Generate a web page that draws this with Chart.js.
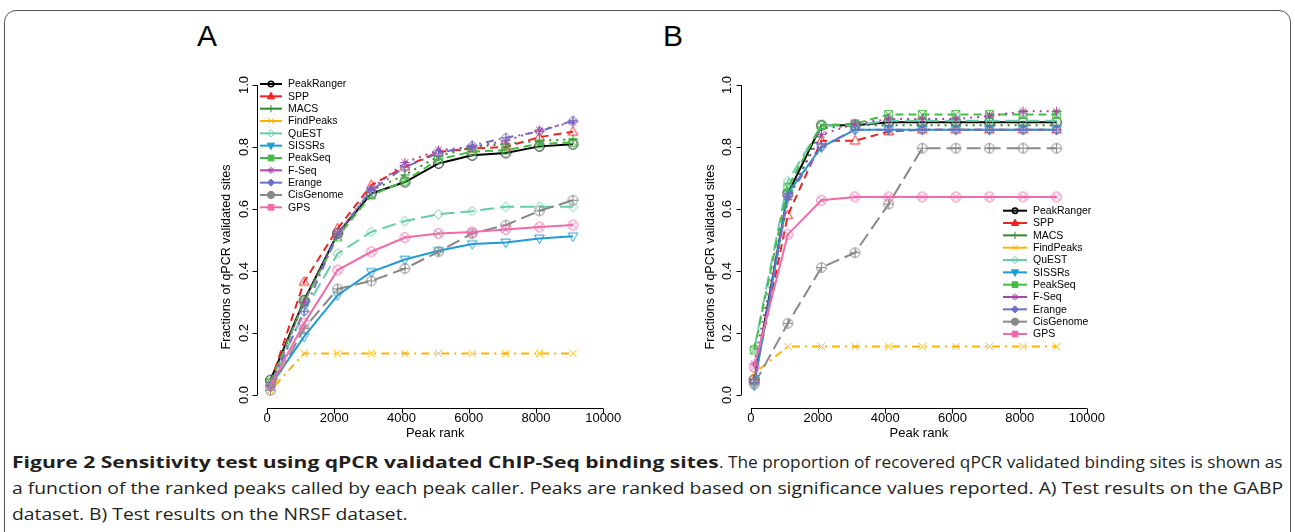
<!DOCTYPE html>
<html>
<head>
<meta charset="utf-8">
<script src="https://cdn.jsdelivr.net/npm/chart.js@4.4.0/dist/chart.umd.min.js"></script>
<style>
  body { margin: 0; background: #fff; width: 1295px; height: 532px; overflow: hidden; position: relative; font-family: "Liberation Sans", Arial, sans-serif; }
  #frame { position: absolute; left: 4px; top: 10px; width: 1285px; height: 600px; border: 1.5px solid #555; border-radius: 12px; }
  .panel { position: absolute; font-size: 30px; color: #000; }
  canvas { position: absolute; }
  .cap { position: absolute; font-family: "Open Sans", sans-serif; font-size: 16px; color: #231f20; white-space: nowrap; transform-origin: 0 50%; line-height: 20px; }
  .bold { font-weight: 700; }
</style>
</head>
<body>
<div id="frame"></div>
<div class="panel" style="left:197px;top:19px;">A</div>
<div class="panel" style="left:663px;top:19px;">B</div>
<canvas id="chartA" width="490" height="400" style="left:150px;top:50px;"></canvas>
<canvas id="chartB" width="490" height="400" style="left:635px;top:50px;"></canvas>
<div class="cap bold" data-w="707" style="left:12px;top:452px;">Figure 2 Sensitivity test using qPCR validated ChIP-Seq binding sites</div>
<div class="cap" data-w="564" style="left:719px;top:452px;">. The proportion of recovered qPCR validated binding sites is shown as</div>
<div class="cap" data-w="1271" style="left:12px;top:478px;">a function of the ranked peaks called by each peak caller. Peaks are ranked based on significance values reported. A) Test results on the GABP</div>
<div class="cap" data-k="1" style="left:12px;top:504px;">dataset. B) Test results on the NRSF dataset.</div>
<script>
// peak rank positions and axis ticks
const peakRanks = [100, 1100, 2100, 3100, 4100, 5100, 6100, 7100, 8100, 9100];
const xTicks = [0, 2000, 4000, 6000, 8000, 10000];
const yTicks = [0, 0.2, 0.4, 0.6, 0.8, 1.0];
const callers = ['PeakRanger', 'SPP', 'MACS', 'FindPeaks', 'QuEST', 'SISSRs', 'PeakSeq', 'F-Seq', 'Erange', 'CisGenome', 'GPS'];

// A) GABP dataset
const gabpPeakRanger = [0.048, 0.305, 0.521, 0.650, 0.687, 0.747, 0.773, 0.781, 0.802, 0.809];
const gabpSPP        = [0.040, 0.365, 0.537, 0.677, 0.736, 0.784, 0.795, 0.800, 0.832, 0.849];
const gabpMACS       = [0.040, 0.300, 0.520, 0.660, 0.710, 0.770, 0.800, 0.810, 0.820, 0.825];
const gabpFindPeaks  = [0.015, 0.134, 0.134, 0.134, 0.134, 0.134, 0.134, 0.134, 0.134, 0.134];
const gabpQuEST      = [0.030, 0.270, 0.456, 0.526, 0.561, 0.583, 0.593, 0.607, 0.607, 0.607];
const gabpSISSRs     = [0.030, 0.188, 0.322, 0.397, 0.437, 0.465, 0.487, 0.492, 0.505, 0.512];
const gabpPeakSeq    = [0.040, 0.300, 0.510, 0.645, 0.690, 0.760, 0.785, 0.790, 0.810, 0.815];
const gabpFSeq       = [0.030, 0.300, 0.520, 0.665, 0.750, 0.790, 0.800, 0.820, 0.855, 0.880];
const gabpErange     = [0.030, 0.270, 0.520, 0.660, 0.735, 0.780, 0.805, 0.830, 0.850, 0.885];
const gabpCisGenome  = [0.015, 0.215, 0.342, 0.368, 0.408, 0.462, 0.521, 0.548, 0.594, 0.628];
const gabpGPS        = [0.030, 0.231, 0.403, 0.462, 0.508, 0.521, 0.526, 0.534, 0.542, 0.548];

// B) NRSF dataset
const nrsfPeakRanger = [0.050, 0.650, 0.870, 0.870, 0.880, 0.880, 0.880, 0.880, 0.880, 0.880];
const nrsfSPP        = [0.050, 0.580, 0.820, 0.820, 0.850, 0.856, 0.856, 0.856, 0.856, 0.856];
const nrsfMACS       = [0.050, 0.630, 0.860, 0.870, 0.870, 0.870, 0.870, 0.870, 0.870, 0.870];
const nrsfFindPeaks  = [0.070, 0.156, 0.156, 0.156, 0.156, 0.156, 0.156, 0.156, 0.156, 0.156];
const nrsfQuEST      = [0.150, 0.690, 0.870, 0.870, 0.885, 0.885, 0.885, 0.885, 0.885, 0.885];
const nrsfSISSRs     = [0.030, 0.650, 0.800, 0.856, 0.856, 0.856, 0.856, 0.856, 0.856, 0.856];
const nrsfPeakSeq    = [0.145, 0.670, 0.870, 0.875, 0.905, 0.905, 0.905, 0.905, 0.905, 0.905];
const nrsfFSeq       = [0.100, 0.640, 0.840, 0.875, 0.890, 0.890, 0.890, 0.900, 0.915, 0.915];
const nrsfErange     = [0.040, 0.640, 0.800, 0.856, 0.856, 0.856, 0.856, 0.856, 0.856, 0.856];
const nrsfCisGenome  = [0.035, 0.231, 0.411, 0.459, 0.616, 0.796, 0.796, 0.796, 0.796, 0.796];
const nrsfGPS        = [0.090, 0.518, 0.628, 0.639, 0.639, 0.639, 0.639, 0.639, 0.639, 0.639];

// one style per caller (R lty 1..5 cycle)
const styles = [
  { color: '#000000', dash: [],          mark: 'circle',  legendMark: 'ring' },
  { color: '#ee2222', dash: [8, 5],      mark: 'tri',     legendMark: 'triF' },
  { color: '#2e8b2e', dash: [2, 5],      mark: 'plus',    legendMark: 'plus' },
  { color: '#ffb300', dash: [2, 5, 8, 5], mark: 'x',      legendMark: 'x' },
  { color: '#66cdaa', dash: [14, 6],     mark: 'diamond', legendMark: 'diamond' },
  { color: '#1e9bd7', dash: [],          mark: 'tridown', legendMark: 'tridownF' },
  { color: '#44bb44', dash: [8, 5],      mark: 'sqx',     legendMark: 'squareF' },
  { color: '#aa44aa', dash: [2, 5],      mark: 'ast',     legendMark: 'ast' },
  { color: '#6f6fc8', dash: [2, 5, 8, 5], mark: 'dplus',  legendMark: 'diamondF' },
  { color: '#888888', dash: [14, 6],     mark: 'cplus',   legendMark: 'circleF' },
  { color: '#f06baa', dash: [],          mark: 'cx',      legendMark: 'squareF' }
];

function drawMark(ctx, type, x, y, r, color) {
  ctx.save();
  ctx.strokeStyle = color;
  ctx.fillStyle = color;
  ctx.lineWidth = 1;
  ctx.setLineDash([]);
  const fill = type.endsWith('F');
  const t = fill ? type.slice(0, -1) : type;
  ctx.beginPath();
  const circle = () => ctx.arc(x, y, r, 0, Math.PI * 2);
  const plus = () => { ctx.moveTo(x - r, y); ctx.lineTo(x + r, y); ctx.moveTo(x, y - r); ctx.lineTo(x, y + r); };
  const cross = (k) => { const d = r * k; ctx.moveTo(x - d, y - d); ctx.lineTo(x + d, y + d); ctx.moveTo(x + d, y - d); ctx.lineTo(x - d, y + d); };
  const diamond = () => { ctx.moveTo(x, y - r); ctx.lineTo(x + r, y); ctx.lineTo(x, y + r); ctx.lineTo(x - r, y); ctx.closePath(); };
  switch (t) {
    case 'circle': circle(); break;
    case 'ring': ctx.lineWidth = 1.6; ctx.arc(x, y, r * 0.75, 0, Math.PI * 2); break;
    case 'tri': ctx.moveTo(x, y - r * 1.1); ctx.lineTo(x + r, y + r * 0.7); ctx.lineTo(x - r, y + r * 0.7); ctx.closePath(); break;
    case 'tridown': ctx.moveTo(x, y + r * 1.1); ctx.lineTo(x + r, y - r * 0.7); ctx.lineTo(x - r, y - r * 0.7); ctx.closePath(); break;
    case 'plus': plus(); break;
    case 'x': cross(0.75); break;
    case 'diamond': diamond(); break;
    case 'square': ctx.rect(x - r * 0.8, y - r * 0.8, r * 1.6, r * 1.6); break;
    case 'sqx': ctx.rect(x - r * 0.8, y - r * 0.8, r * 1.6, r * 1.6); cross(0.8); break;
    case 'ast': plus(); cross(0.7); break;
    case 'dplus': diamond(); plus(); break;
    case 'cplus': circle(); plus(); break;
    case 'cx': circle(); cross(0.7); break;
  }
  if (fill) ctx.fill();
  ctx.stroke();
  ctx.restore();
}

function markerImage(type, color) {
  const c = document.createElement('canvas');
  c.width = 13; c.height = 13;
  drawMark(c.getContext('2d'), type, 6.5, 6.5, 4.8, color);
  return c;
}

function buildDatasets(series) {
  return series.map((vals, i) => ({
    label: callers[i],
    data: peakRanks.map((r, k) => ({ x: r, y: vals[k] })),
    borderColor: styles[i].color,
    borderWidth: 2,
    borderDash: styles[i].dash,
    pointStyle: markerImage(styles[i].mark, styles[i].color),
    pointRadius: 5,
    showLine: true,
    tension: 0,
    fill: false,
    order: callers.length - i
  }));
}

// R-like axes: lines only span the tick range
const rAxes = {
  id: 'rAxes',
  afterDraw(chart) {
    const { ctx, chartArea: a, scales: { x, y } } = chart;
    ctx.save();
    ctx.strokeStyle = '#000';
    ctx.fillStyle = '#000';
    ctx.lineWidth = 1;
    ctx.font = '13px "Liberation Sans", Arial, sans-serif';
    const xb = Math.round(a.bottom) + 0.5;
    ctx.beginPath();
    ctx.moveTo(x.getPixelForValue(xTicks[0]), xb);
    ctx.lineTo(x.getPixelForValue(xTicks[xTicks.length - 1]), xb);
    xTicks.forEach(v => {
      const px = Math.round(x.getPixelForValue(v)) + 0.5;
      ctx.moveTo(px, xb); ctx.lineTo(px, xb + 5);
    });
    const yl = Math.round(a.left) + 0.5;
    ctx.moveTo(yl, y.getPixelForValue(yTicks[0]));
    ctx.lineTo(yl, y.getPixelForValue(yTicks[yTicks.length - 1]));
    yTicks.forEach(v => {
      const py = Math.round(y.getPixelForValue(v)) + 0.5;
      ctx.moveTo(yl, py); ctx.lineTo(yl - 5, py);
    });
    ctx.stroke();
    ctx.textAlign = 'center';
    ctx.textBaseline = 'middle';
    xTicks.forEach(v => ctx.fillText(String(v), x.getPixelForValue(v), a.bottom + 10.5));
    ctx.fillText('Peak rank', (x.getPixelForValue(0) + x.getPixelForValue(10000)) / 2, a.bottom + 25);
    yTicks.forEach(v => {
      ctx.save();
      ctx.translate(a.left - 13, y.getPixelForValue(v));
      ctx.rotate(-Math.PI / 2);
      ctx.fillText(v.toFixed(1), 0, 0);
      ctx.restore();
    });
    ctx.save();
    ctx.font = '12.5px "Liberation Sans", Arial, sans-serif';
    ctx.translate(a.left - 30.5, (y.getPixelForValue(0) + y.getPixelForValue(1)) / 2 + 17);
    ctx.rotate(-Math.PI / 2);
    ctx.fillText('Fractions of qPCR validated sites', 0, 0);
    ctx.restore();
    ctx.restore();
  }
};

// legend drawn inside the plot, like R's legend()
const rLegend = {
  id: 'rLegend',
  afterDraw(chart, args, opts) {
    const ctx = chart.ctx;
    ctx.save();
    ctx.font = '10.5px "Liberation Sans", Arial, sans-serif';
    ctx.textBaseline = 'middle';
    ctx.textAlign = 'left';
    callers.forEach((name, i) => {
      const yy = opts.y + i * opts.dy;
      ctx.strokeStyle = styles[i].color;
      ctx.lineWidth = 2;
      ctx.setLineDash([]);
      ctx.beginPath();
      ctx.moveTo(opts.x, yy); ctx.lineTo(opts.x + opts.len, yy);
      ctx.stroke();
      drawMark(ctx, styles[i].legendMark, opts.x + opts.len / 2, yy, 3.6, styles[i].color);
      ctx.fillStyle = '#000';
      ctx.fillText(name, opts.x + opts.len + 6, yy + 0.5);
    });
    ctx.restore();
  }
};

function makeChart(id, series, pad, legendPos) {
  return new Chart(document.getElementById(id), {
    type: 'scatter',
    data: { datasets: buildDatasets(series) },
    options: {
      responsive: false,
      animation: false,
      events: [],
      layout: { padding: pad },
      scales: {
        x: { type: 'linear', min: -300, max: 10400, display: false },
        y: { type: 'linear', min: -0.043, max: 1.04, display: false }
      },
      plugins: { legend: { display: false }, tooltip: { enabled: false }, rLegend: legendPos }
    },
    plugins: [rAxes, rLegend]
  });
}

makeChart('chartA',
  [gabpPeakRanger, gabpSPP, gabpMACS, gabpFindPeaks, gabpQuEST, gabpSISSRs, gabpPeakSeq, gabpFSeq, gabpErange, gabpCisGenome, gabpGPS],
  { left: 107, top: 22.6, right: 23.3, bottom: 41.7 },
  { x: 110, y: 34, dy: 12.33, len: 22 });

makeChart('chartB',
  [nrsfPeakRanger, nrsfSPP, nrsfMACS, nrsfFindPeaks, nrsfQuEST, nrsfSISSRs, nrsfPeakSeq, nrsfFSeq, nrsfErange, nrsfCisGenome, nrsfGPS],
  { left: 105.8, top: 22.6, right: 24.7, bottom: 41.7 },
  { x: 368, y: 160.7, dy: 12.33, len: 24 });

// squeeze caption pieces to the reference's widths
let lastK = 1;
document.querySelectorAll('.cap').forEach(el => {
  const w = el.getAttribute('data-w');
  if (w) lastK = Number(w) / el.scrollWidth;
  el.style.transform = 'scaleX(' + lastK + ')';
});
</script>
</body>
</html>
